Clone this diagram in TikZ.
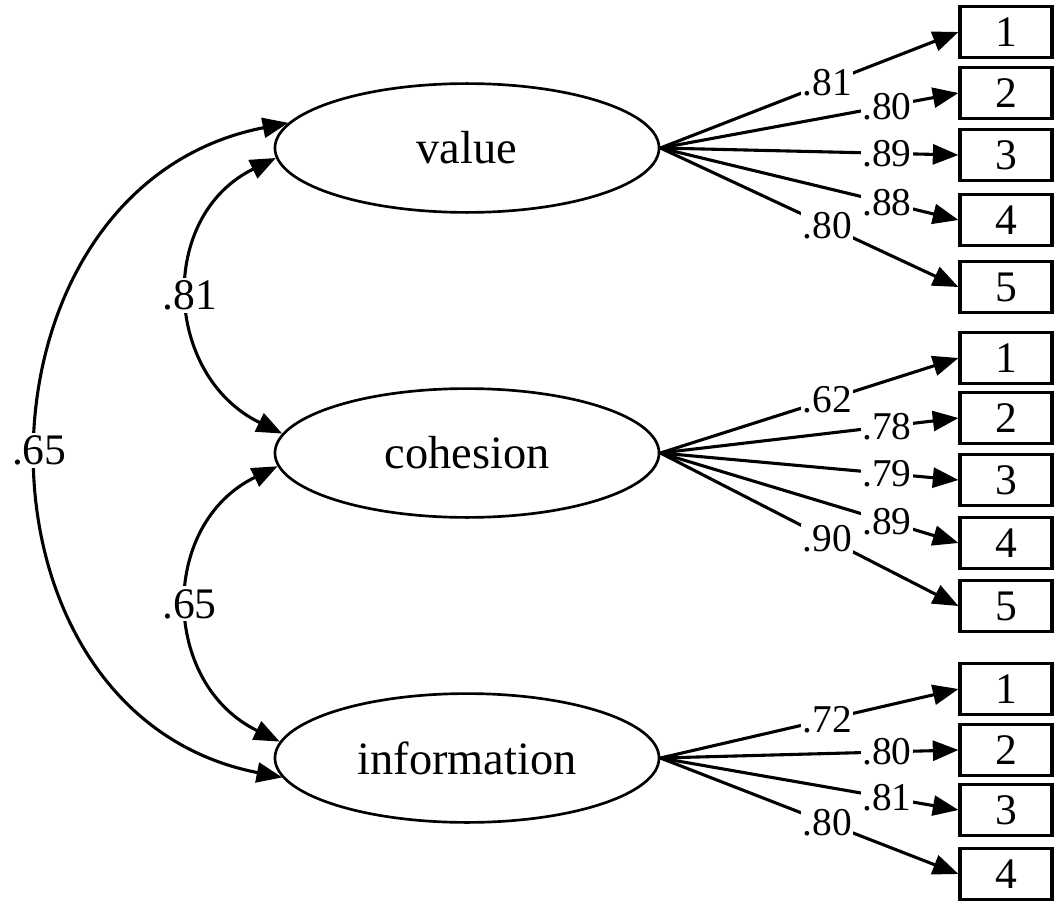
\documentclass[tikz,border=0pt]{standalone}
\usepackage{fontspec}
\setmainfont{Liberation Serif}
\usetikzlibrary{arrows.meta,shapes.geometric}

\begin{document}
\begin{tikzpicture}[x=0.025cm, y=-0.025cm,
    latent/.style={ellipse, draw=black, line width=1.9pt, minimum width=9.6cm, minimum height=3.22cm, inner sep=0pt, font=\fontsize{33}{40}\selectfont},
    item/.style={rectangle, draw=black, line width=2.2pt, minimum width=2.3cm, minimum height=1.28cm, inner sep=0pt, font=\fontsize{31}{34}\selectfont},
    lbl/.style={fill=white, inner sep=1pt, font=\fontsize{28}{30}\selectfont},
    clbl/.style={fill=white, inner sep=2pt, font=\fontsize{31}{34}\selectfont},
    load/.style={-{Triangle[length=0.64cm, width=0.5cm]}, line width=2.2pt},
    cov/.style={{Triangle[length=0.64cm, width=0.5cm]}-{Triangle[length=0.64cm, width=0.5cm]}, line width=2.2pt}
]
\useasboundingbox (0,0) rectangle (1058,906);

% latent factors
\node[latent] (value) at (467,148) {value};
\node[latent] (cohesion) at (467,453) {cohesion};
\node[latent] (info) at (467,758) {information};

% indicators
\node[item] (v1) at (1006,32) {1};
\node[item] (v2) at (1006,93) {2};
\node[item] (v3) at (1006,155) {3};
\node[item] (v4) at (1006,220) {4};
\node[item] (v5) at (1006,287) {5};

\node[item] (c1) at (1006,358) {1};
\node[item] (c2) at (1006,418) {2};
\node[item] (c3) at (1006,480) {3};
\node[item] (c4) at (1006,543) {4};
\node[item] (c5) at (1006,606) {5};

\node[item] (i1) at (1006,689) {1};
\node[item] (i2) at (1006,750) {2};
\node[item] (i3) at (1006,810) {3};
\node[item] (i4) at (1006,874) {4};

% loadings
\draw[load] (value.east) -- node[lbl, pos=0.56] {.81} (v1.west);
\draw[load] (value.east) -- node[lbl, pos=0.76] {.80} (v2.west);
\draw[load] (value.east) -- node[lbl, pos=0.76] {.89} (v3.west);
\draw[load] (value.east) -- node[lbl, pos=0.76] {.88} (v4.west);
\draw[load] (value.east) -- node[lbl, pos=0.56] {.80} (v5.west);

\draw[load] (cohesion.east) -- node[lbl, pos=0.56] {.62} (c1.west);
\draw[load] (cohesion.east) -- node[lbl, pos=0.76] {.78} (c2.west);
\draw[load] (cohesion.east) -- node[lbl, pos=0.76] {.79} (c3.west);
\draw[load] (cohesion.east) -- node[lbl, pos=0.76] {.89} (c4.west);
\draw[load] (cohesion.east) -- node[lbl, pos=0.56] {.90} (c5.west);

\draw[load] (info.east) -- node[lbl, pos=0.56] {.72} (i1.west);
\draw[load] (info.east) -- node[lbl, pos=0.76] {.80} (i2.west);
\draw[load] (info.east) -- node[lbl, pos=0.76] {.81} (i3.west);
\draw[load] (info.east) -- node[lbl, pos=0.56] {.80} (i4.west);

% factor correlations
\draw[cov] (value.183) .. controls +(-119,58) and +(-119,-58) .. node[clbl, pos=0.5] {.81} (cohesion.174);
\draw[cov] (cohesion.184) .. controls +(-119,58) and +(-119,-58) .. node[clbl, pos=0.5] {.65} (info.175);
\draw[cov] (value.172) .. controls +(-328,64) and +(-328,-64) .. node[clbl, pos=0.5] {.65} (info.186);
\end{tikzpicture}
\end{document}
